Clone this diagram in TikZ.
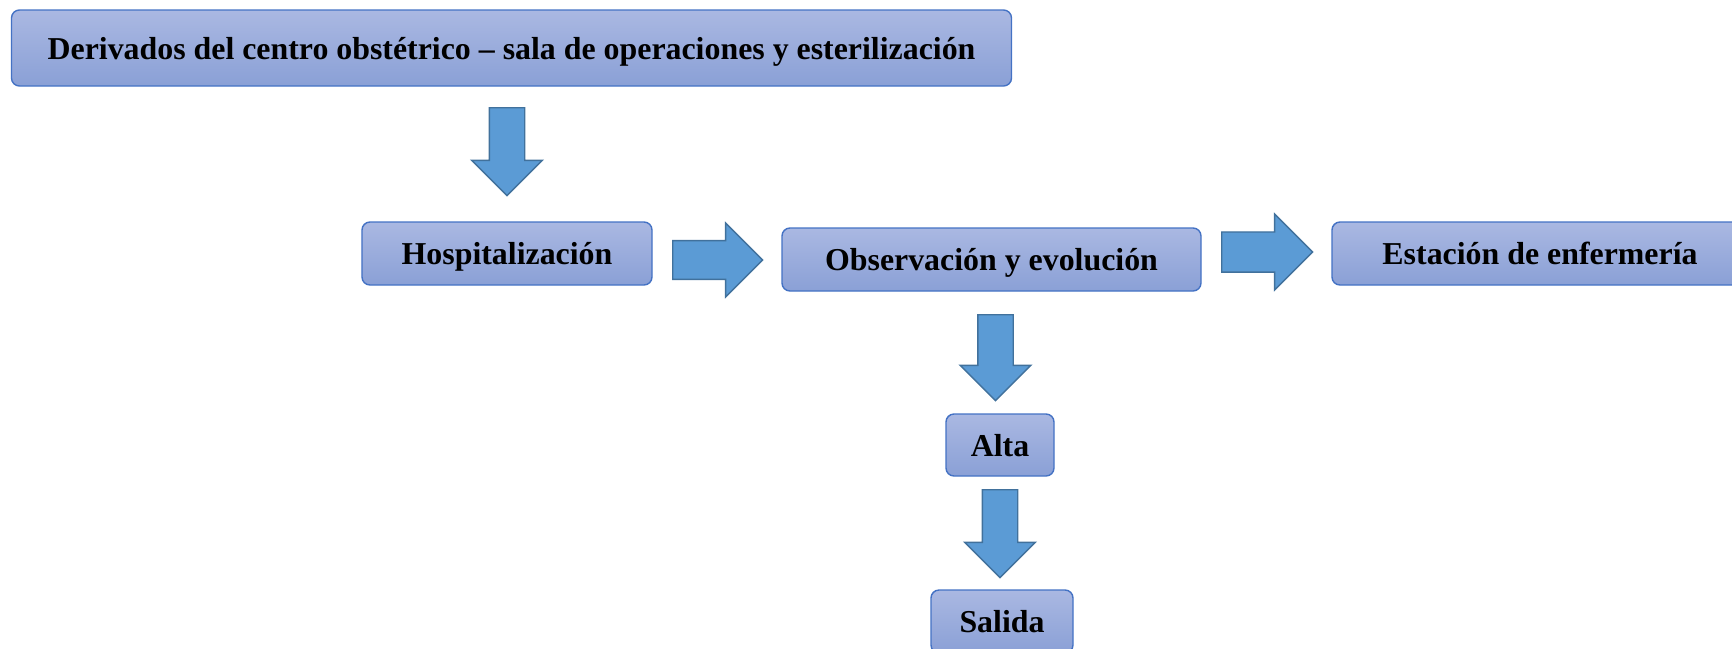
\documentclass[tikz,border=0pt]{standalone}
\usepackage{fontspec}
\setmainfont{Liberation Serif}
\usepackage{tikz}
\usetikzlibrary{shapes.arrows}

\definecolor{boxtop}{RGB}{170,184,226}
\definecolor{boxbot}{RGB}{138,160,214}
\definecolor{boxline}{RGB}{68,114,196}
\definecolor{arrfill}{RGB}{91,155,213}
\definecolor{arrline}{RGB}{65,113,156}

\begin{document}
\begin{tikzpicture}[x=0.015cm,y=-0.015cm,
  font=\fontsize{13.6}{16}\selectfont\bfseries,
  stagebox/.style={rectangle,rounded corners=0.12cm,top color=boxtop,bottom color=boxbot,draw=boxline,line width=0.6pt,inner sep=0pt,text height=9.5pt,text depth=0pt,align=center,text=black},
  flowarrow/.style={single arrow,anchor=tail,fill=arrfill,draw=arrline,line width=0.6pt,inner xsep=0pt,inner ysep=0.255cm,minimum width=1.05cm,single arrow head extend=0.265cm,minimum height=1.32cm},
  downarrow/.style={flowarrow,shape border rotate=270,inner xsep=0.255cm,inner ysep=0pt}]
\useasboundingbox (0,0) rectangle (1732,648);
% boxes
\node[stagebox,minimum width=15.0cm,minimum height=1.14cm] (derivados) at (511.5,48) {Derivados del centro obstétrico -- sala de operaciones y esterilización};
\node[stagebox,minimum width=4.35cm,minimum height=0.945cm] (hosp) at (507,253.5) {Hospitalización};
\node[stagebox,minimum width=6.285cm,minimum height=0.945cm] (obs) at (991.5,259.5) {Observación y evolución};
\node[stagebox,minimum width=6.24cm,minimum height=0.945cm] (estacion) at (1540,253.5) {Estación de enfermería};
\node[stagebox,minimum width=1.62cm,minimum height=0.93cm] (alta) at (1000,445) {Alta};
\node[stagebox,minimum width=2.13cm,minimum height=0.945cm] (salida) at (1002,621.5) {Salida};
% block arrows
\node[downarrow] (arr-a) at (507,107) {};
\node[flowarrow,minimum height=1.35cm,inner ysep=0.28cm] (arr-b) at (672,260) {};
\node[flowarrow,minimum height=1.365cm,inner ysep=0.29cm,minimum width=1.1cm,single arrow head extend=0.27cm] (arr-c) at (1221,252) {};
\node[downarrow,minimum height=1.29cm] (arr-d) at (995.5,314) {};
\node[downarrow] (arr-e) at (1000,489) {};
\end{tikzpicture}
\end{document}
